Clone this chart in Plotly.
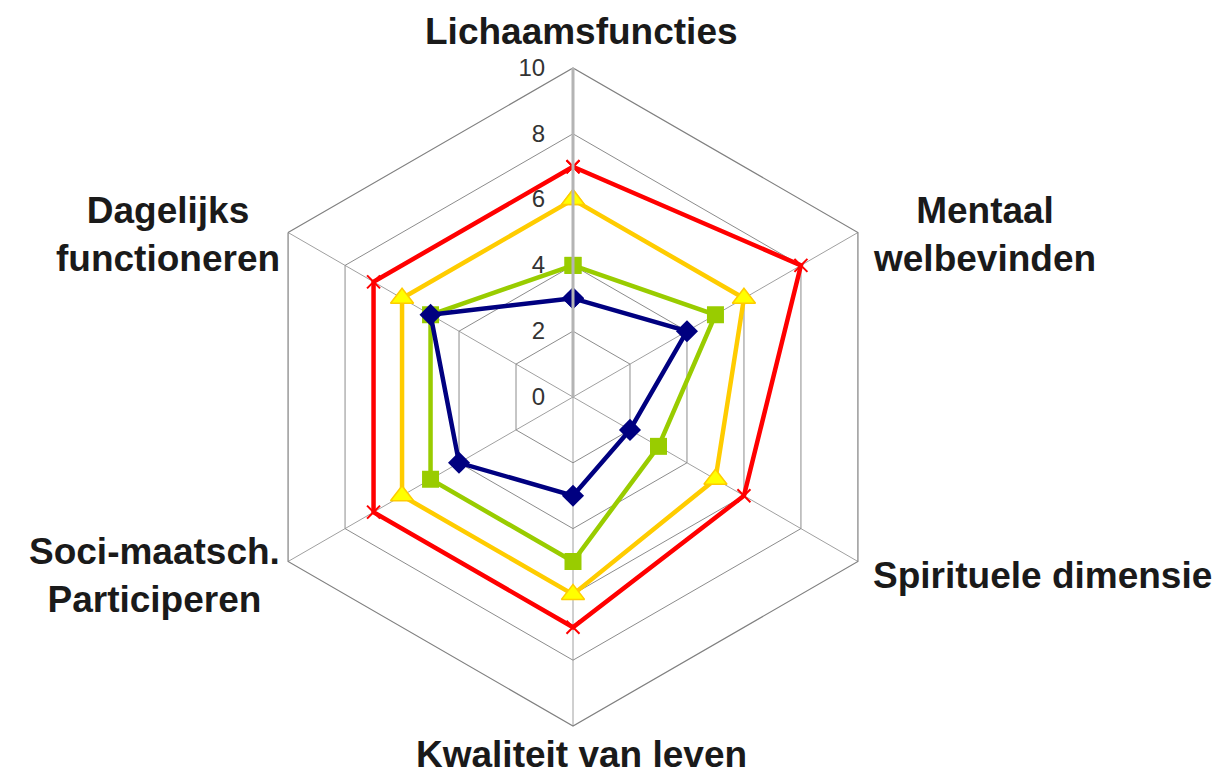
import math
import plotly.graph_objects as go

categories = ["Lichaamsfuncties", "Mentaal welbevinden", "Spirituele dimensie",
              "Kwaliteit van leven", "Soci-maatsch. Participeren", "Dagelijks functioneren"]
label_text = ["Lichaamsfuncties", "Mentaal<br>welbevinden", "Spirituele dimensie",
              "Kwaliteit van leven", "Soci-maatsch.<br>Participeren", "Dagelijks<br>functioneren"]
red_vals = [7, 8, 6, 7, 7, 7]
yellow_vals = [6, 6, 5, 6, 6, 6]
green_vals = [4, 5, 3, 5, 5, 5]
blue_vals = [3, 4, 2, 3, 4, 5]
radial_ticks = [0, 2, 4, 6, 8, 10]

W, H = 1223, 777
CX, CY, R = 573, 397, 327  # target pixel centre / radius of the polar area
DX, DY, DR = -8, -8, 2     # empirical correction of plotly's placement

fig = go.Figure()

def closed(v):
    return v + v[:1]

series = [
    (red_vals, "#ff0000", dict(symbol="x-thin", size=13, line=dict(color="#ff0000", width=2))),
    (yellow_vals, "#ffcc00", dict(symbol="triangle-up", size=20, color="#ffff00",
                                  line=dict(color="#ffcc00", width=1.5))),
    (green_vals, "#99cc00", dict(symbol="square", size=17, color="#99cc00")),
    (blue_vals, "#000080", dict(symbol="diamond", size=17, color="#000080")),
]
for vals, col, mk in series:
    fig.add_trace(go.Scatterpolar(
        r=closed(vals), theta=closed(categories), mode="lines+markers",
        line=dict(color=col, width=4.5), marker=mk, showlegend=False,
        hoverinfo="r+theta"))

cx, cy, rr = CX + DX, CY + DY, R + DR
fig.update_layout(
    width=W, height=H,
    margin=dict(l=0, r=0, t=0, b=0),
    paper_bgcolor="white",
    showlegend=False,
    polar=dict(
        domain=dict(x=[(cx - rr) / W, (cx + rr) / W],
                    y=[(H - cy - rr) / H, (H - cy + rr) / H]),
        bgcolor="white",
        gridshape="linear",
        radialaxis=dict(
            range=[0, 10], tickvals=radial_ticks, angle=90,
            side="counterclockwise", tickangle=90,
            ticks="outside", ticklen=18, tickcolor="rgba(0,0,0,0)",
            tickfont=dict(family="Liberation Sans", size=24, color="#333333"),
            showline=True, linecolor="#b4b4b4", linewidth=3,
            gridcolor="#8c8c8c", gridwidth=1,
        ),
        angularaxis=dict(
            rotation=90, direction="clockwise",
            showticklabels=False, ticks="",
            showline=True, linecolor="#808080", linewidth=1.2,
            gridcolor="#a0a0a0", gridwidth=1.2,
        ),
    ),
)

# category labels placed around the hexagon vertices
n = len(categories)
for i, txt in enumerate(label_text):
    ang = math.radians(90 - i * 360 / n)
    dx, dy = math.cos(ang), math.sin(ang)
    if abs(dx) < 1e-6:
        if dy > 0:
            px, py, ya = CX, CY - R - 24, "bottom"
        else:
            px, py, ya = CX, H - 8, "bottom"
        xa = "center"
    else:
        pad = 8 if dx > 0 else 18
        px = CX + (R + pad) * dx
        py = CY - (R + 14) * dy
        xa, ya = ("left" if dx > 0 else "right"), "middle"
    fig.add_annotation(
        x=px / W, y=(H - py) / H, xref="paper", yref="paper",
        text=txt, showarrow=False, xanchor=xa, yanchor=ya, align="center",
        font=dict(family="Liberation Sans", size=37, color="#1a1a1a", weight="bold"),
    )

fig.write_html("out.html")
